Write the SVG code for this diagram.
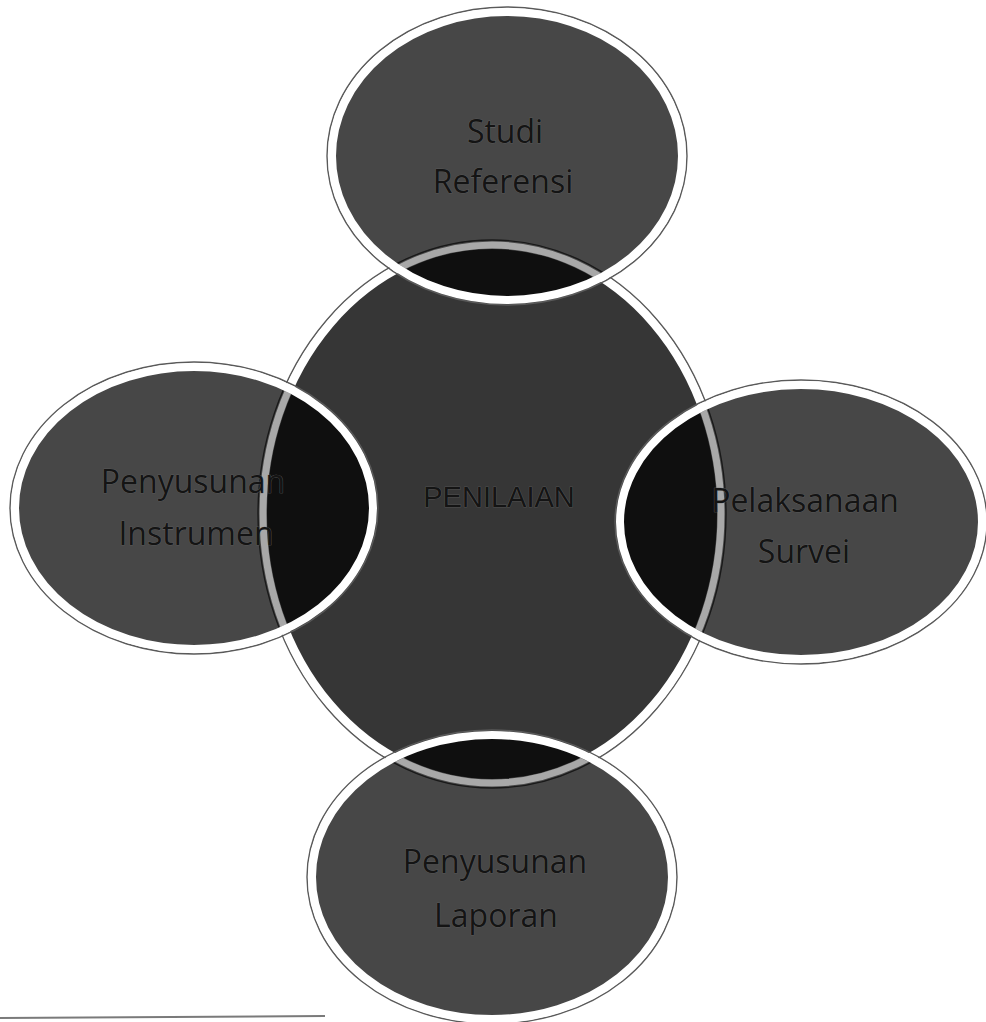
<svg xmlns="http://www.w3.org/2000/svg" width="986" height="1022" viewBox="0 0 986 1022">
  <defs>
    <style>
      .outline { fill: none; stroke: #5a5a5a; stroke-width: 1.4; }
      .ring { fill: none; stroke: #ffffff; stroke-width: 8; }
      .centerfill { fill: #363636; }
      .satfill { fill: #000000; fill-opacity: 0.72; }
      .innerring { fill: none; stroke: #a8a8a8; stroke-width: 7; }
      .label { font-family: "Open Sans", "Liberation Sans", sans-serif; font-size: 32px; fill: #141414; text-anchor: middle; stroke: #6a6a6a; stroke-width: 0.6; paint-order: stroke; }
      .clabel { font-family: "Liberation Sans", "Open Sans", sans-serif; font-size: 29px; fill: #141414; text-anchor: middle; stroke: #6a6a6a; stroke-width: 0.6; paint-order: stroke; }
    </style>
    <clipPath id="satClip">
      <ellipse cx="507" cy="156" rx="171" ry="140"/>
      <ellipse cx="194" cy="508" rx="175" ry="137"/>
      <ellipse cx="801" cy="522" rx="177" ry="133"/>
      <ellipse cx="492" cy="877" rx="176" ry="138"/>
    </clipPath>
  </defs>
  <rect x="0" y="0" width="986" height="1022" fill="#ffffff"/>
  <line x1="0" y1="1018" x2="325" y2="1016" stroke="#7a7a7a" stroke-width="2"/>

  <g id="node-penilaian">
    <ellipse class="outline" cx="492" cy="514" rx="234" ry="274"/>
    <ellipse class="centerfill" cx="492" cy="514" rx="229" ry="269"/>
    <ellipse class="ring" cx="492" cy="514" rx="229" ry="269"/>
  </g>

  <g id="node-studi-referensi">
    <ellipse class="outline" cx="507" cy="156" rx="180" ry="149"/>
    <ellipse class="satfill" cx="507" cy="156" rx="175" ry="144"/>
  </g>
  <g id="node-penyusunan-instrumen">
    <ellipse class="outline" cx="194" cy="508" rx="184" ry="146"/>
    <ellipse class="satfill" cx="194" cy="508" rx="179" ry="141"/>
  </g>
  <g id="node-pelaksanaan-survei">
    <ellipse class="outline" cx="801" cy="522" rx="186" ry="142"/>
    <ellipse class="satfill" cx="801" cy="522" rx="181" ry="137"/>
  </g>
  <g id="node-penyusunan-laporan">
    <ellipse class="outline" cx="492" cy="877" rx="185" ry="147"/>
    <ellipse class="satfill" cx="492" cy="877" rx="180" ry="142"/>
  </g>

  <g id="overlap-rings">
    <ellipse class="innerring" cx="492" cy="514" rx="229" ry="269" clip-path="url(#satClip)"/>
  </g>

  <g id="satellite-rings">
    <ellipse class="ring" cx="507" cy="156" rx="175" ry="144"/>
    <ellipse class="ring" cx="194" cy="508" rx="179" ry="141"/>
    <ellipse class="ring" cx="801" cy="522" rx="181" ry="137"/>
    <ellipse class="ring" cx="492" cy="877" rx="180" ry="142"/>
  </g>

  <g id="labels">
    <text class="clabel" x="499" y="507">PENILAIAN</text>
    <text class="label" x="505" y="143">Studi</text>
    <text class="label" x="503" y="193">Referensi</text>
    <text class="label" x="193" y="493">Penyusunan</text>
    <text class="label" x="196" y="545">Instrumen</text>
    <text class="label" x="805" y="512">Pelaksanaan</text>
    <text class="label" x="804" y="563">Survei</text>
    <text class="label" x="495" y="873">Penyusunan</text>
    <text class="label" x="496" y="927">Laporan</text>
  </g>
</svg>
